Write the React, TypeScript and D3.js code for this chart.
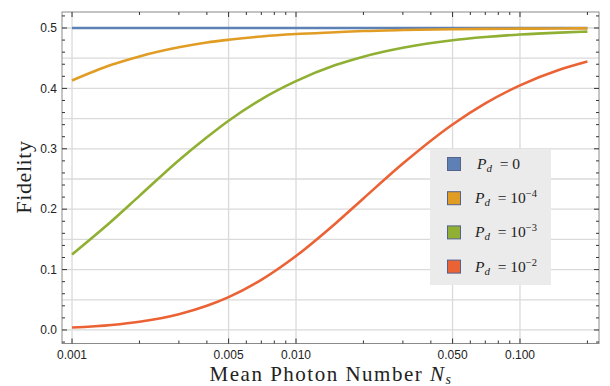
import React, { useEffect } from "react";
import * as d3 from "d3";

const photonN = [0.001, 0.0015, 0.002, 0.003, 0.004, 0.005, 0.007, 0.01, 0.015, 0.02, 0.03, 0.05, 0.07, 0.1, 0.15, 0.2];
const fidPd0 = [0.5, 0.5, 0.5, 0.5, 0.5, 0.5, 0.5, 0.5, 0.5, 0.5, 0.5, 0.5, 0.5, 0.5, 0.5, 0.5];
const fidPd4 = [0.413, 0.439, 0.453, 0.468, 0.476, 0.4805, 0.486, 0.490, 0.493, 0.495, 0.4966, 0.4979, 0.4985, 0.4989, 0.4993, 0.4994];
const fidPd3 = [0.125, 0.180, 0.222, 0.281, 0.319, 0.3465, 0.382, 0.412, 0.4386, 0.4526, 0.4673, 0.4797, 0.485, 0.4892, 0.4924, 0.494];
const fidPd2 = [0.004, 0.0083, 0.0136, 0.0261, 0.040, 0.0544, 0.0831, 0.1225, 0.1764, 0.2178, 0.2756, 0.3403, 0.3752, 0.405, 0.4307, 0.4444];

const seriesNames = ["0", "−4", "−3", "−2"];
const seriesColors = ["#5E81B5", "#E19C24", "#8FB032", "#EB6235"];
const seriesValues = [fidPd0, fidPd4, fidPd3, fidPd2];

const xMajor = [0.001, 0.005, 0.01, 0.05, 0.1];
const xMajorLabels = ["0.001", "0.005", "0.010", "0.050", "0.100"];
const xMinor = [0.002, 0.003, 0.004, 0.006, 0.007, 0.008, 0.009, 0.02, 0.03, 0.04, 0.06, 0.07, 0.08, 0.09, 0.2];
const yMajor = [0, 0.1, 0.2, 0.3, 0.4, 0.5];
const yMajorLabels = ["0.0", "0.1", "0.2", "0.3", "0.4", "0.5"];
const yGrid = [0, 0.05, 0.1, 0.15, 0.2, 0.25, 0.3, 0.35, 0.4, 0.45, 0.5];

export default function App() {
  useEffect(() => {
    document.body.style.margin = "0";
  }, []);

  const L = 62, R = 599, T = 12, B = 343.5;
  const x = d3.scaleLog().domain([0.000902, 0.2253]).range([L, R]);
  const y = d3.scaleLinear().domain([-0.0224, 0.5265]).range([B, T]);

  const yMinor = d3.range(-0.02, 0.5201, 0.02).filter(v => !yMajor.some(m => Math.abs(m - v) < 1e-6));

  const line = d3.line<number>()
    .x((_, i) => x(photonN[i]))
    .y(d => y(d))
    .curve(d3.curveMonotoneX);

  const frame = "#8a8a8a";
  const tickCol = "#333";
  const gridCol = "#dadada";
  const serif = "Liberation Serif, Times New Roman, serif";
  const sans = "Liberation Sans, Arial, sans-serif";

  return (
    <svg width={610} height={386} style={{ display: "block", position: "absolute", left: 0, top: 0, background: "#fff" }}>
      {/* grid */}
      {yGrid.map(v => (
        <line key={"gy" + v} x1={L} x2={R} y1={y(v)} y2={y(v)} stroke={gridCol} strokeWidth={1.3} />
      ))}
      {xMajor.map(v => (
        <line key={"gx" + v} x1={x(v)} x2={x(v)} y1={T} y2={B} stroke={gridCol} strokeWidth={1.3} />
      ))}
      {/* legend box */}
      <rect x={430} y={149} width={121} height={136} fill="#ebebeb" />
      {/* curves */}
      {seriesValues.map((vals, i) => (
        <path key={"s" + i} d={line(vals) || ""} fill="none" stroke={seriesColors[i]} strokeWidth={2.6} />
      ))}
      {/* frame */}
      <rect x={L} y={T} width={R - L} height={B - T} fill="none" stroke={frame} strokeWidth={1} />
      {/* x ticks */}
      {xMajor.map((v, i) => (
        <g key={"xt" + v}>
          <line x1={x(v)} x2={x(v)} y1={B} y2={B - 5} stroke={tickCol} strokeWidth={1} />
          <line x1={x(v)} x2={x(v)} y1={T} y2={T + 5} stroke={tickCol} strokeWidth={1} />
          <text x={x(v)} y={358.5} textAnchor="middle" fontFamily={sans} fontSize={12} fill="#222">{xMajorLabels[i]}</text>
        </g>
      ))}
      {xMinor.map(v => (
        <g key={"xm" + v}>
          <line x1={x(v)} x2={x(v)} y1={B} y2={B - 3} stroke={tickCol} strokeWidth={1} />
          <line x1={x(v)} x2={x(v)} y1={T} y2={T + 3} stroke={tickCol} strokeWidth={1} />
        </g>
      ))}
      {/* y ticks */}
      {yMajor.map((v, i) => (
        <g key={"yt" + v}>
          <line x1={L} x2={L + 5} y1={y(v)} y2={y(v)} stroke={tickCol} strokeWidth={1} />
          <line x1={R} x2={R - 5} y1={y(v)} y2={y(v)} stroke={tickCol} strokeWidth={1} />
          <text x={57} y={y(v) + 4.2} textAnchor="end" fontFamily={sans} fontSize={12} fill="#222">{yMajorLabels[i]}</text>
        </g>
      ))}
      {yMinor.map(v => (
        <g key={"ym" + v.toFixed(2)}>
          <line x1={L} x2={L + 3} y1={y(v)} y2={y(v)} stroke={tickCol} strokeWidth={1} />
          <line x1={R} x2={R - 3} y1={y(v)} y2={y(v)} stroke={tickCol} strokeWidth={1} />
        </g>
      ))}
      {/* axis titles */}
      <text x={331} y={381} textAnchor="middle" fontFamily={serif} fontSize={21} letterSpacing={1.5} fill="#222">
        Mean Photon Number <tspan fontStyle="italic">N</tspan><tspan fontStyle="italic" fontSize={14} dy={2.5}>s</tspan>
      </text>
      <text transform="translate(31,177) rotate(-90)" textAnchor="middle" fontFamily={serif} fontSize={22} letterSpacing={0.6} fill="#222">Fidelity</text>
      {/* legend */}
      {seriesNames.map((nm, i) => {
        const cy = 164 + i * 34.2;
        return (
          <g key={"lg" + i}>
            <rect x={447.5} y={cy - 6.5} width={13} height={13} fill={seriesColors[i]} stroke="#56628e" strokeWidth={1} />
            <text x={i === 0 ? 477 : 475} y={cy + 5} fontFamily={serif} fontSize={15.5} fill="#222">
              <tspan fontStyle="italic">P</tspan>
              <tspan fontStyle="italic" fontSize={11} dy={3}>d</tspan>
              {i === 0 ? (
                <tspan dy={-3}>{"\u2002= 0"}</tspan>
              ) : (
                <>
                  <tspan dy={-3}>{"\u2002= 10"}</tspan>
                  <tspan fontSize={10.5} dy={-6}>{nm}</tspan>
                </>
              )}
            </text>
          </g>
        );
      })}
    </svg>
  );
}
